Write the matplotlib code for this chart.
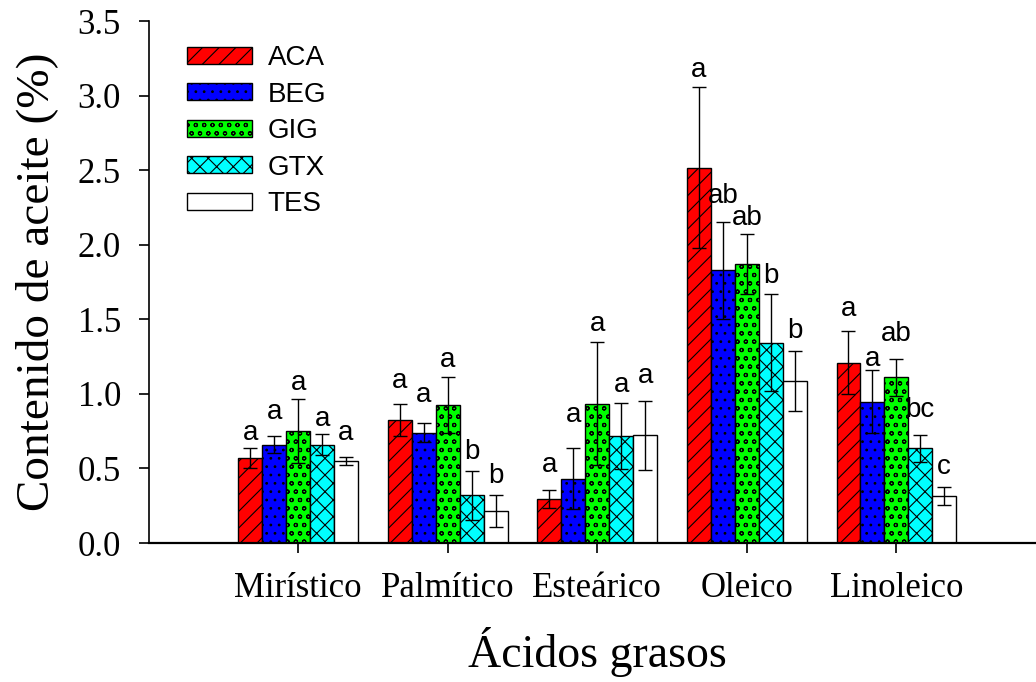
"""
Contenido de aceite por ácido graso para cinco genotipos,
barras agrupadas con error estándar y letras de significancia.
"""
import numpy as np
import matplotlib
matplotlib.use("Agg")
import matplotlib.pyplot as plt

# Datos
acidos = ["Mirístico", "Palmítico", "Esteárico", "Oleico", "Linoleico"]
genotipos = ["ACA", "BEG", "GIG", "GTX", "TES"]

media_aca = [0.57, 0.825, 0.295, 2.515, 1.21]
media_beg = [0.66, 0.74, 0.43, 1.83, 0.948]
media_gig = [0.75, 0.925, 0.935, 1.87, 1.11]
media_gtx = [0.66, 0.32, 0.718, 1.344, 0.635]
media_tes = [0.55, 0.215, 0.723, 1.087, 0.317]

error_aca = [0.065, 0.105, 0.06, 0.54, 0.21]
error_beg = [0.055, 0.065, 0.205, 0.325, 0.21]
error_gig = [0.215, 0.185, 0.41, 0.2, 0.125]
error_gtx = [0.07, 0.165, 0.22, 0.325, 0.09]
error_tes = [0.025, 0.105, 0.232, 0.2, 0.06]

letras_aca = ["a", "a", "a", "a", "a"]
letras_beg = ["a", "a", "a", "ab", "a"]
letras_gig = ["a", "a", "a", "ab", "ab"]
letras_gtx = ["a", "b", "a", "b", "bc"]
letras_tes = ["a", "b", "a", "b", "c"]

medias = [media_aca, media_beg, media_gig, media_gtx, media_tes]
errores = [error_aca, error_beg, error_gig, error_gtx, error_tes]
letras = [letras_aca, letras_beg, letras_gig, letras_gtx, letras_tes]

# Estilo de cada serie
colores = ["#ff0000", "#0000ff", "#00ff00", "#00ffff", "#ffffff"]
tramas = ["//", "..", "oo", "xx", ""]

# separación (px) entre la barra de error y cada letra, como en el original
holgura_px = [
    [8, 16, 18, 10, 15],
    [17, 21, 26, 19, 4],
    [9, 10, 11, 9, 18],
    [8, 12, 11, 11, 18],
    [17, 12, 18, 13, 13],
]
px_por_unidad = 149.0

plt.rcParams["hatch.linewidth"] = 0.8

fig = plt.figure(figsize=(10.36, 6.82), dpi=100)
ax = fig.add_axes([0.1435, 0.2038, 0.866, 0.7654])

x = np.arange(1, len(acidos) + 1)
ancho = 0.16

for i, nombre in enumerate(genotipos):
    pos = x + (i - 2) * ancho
    ax.bar(pos, medias[i], width=ancho, color=colores[i], hatch=tramas[i],
           edgecolor="black", linewidth=1.0, label=nombre, zorder=2)
    ax.errorbar(pos, medias[i], yerr=errores[i], fmt="none", ecolor="black",
                elinewidth=1.0, capsize=4.7, capthick=1.0, zorder=3)
    # letras de significancia encima de la barra de error
    for j, (xp, m, e, t) in enumerate(zip(pos, medias[i], errores[i], letras[i])):
        y_txt = m + e + holgura_px[i][j] / px_por_unidad
        ax.text(xp, y_txt, t, ha="center", va="baseline",
                fontsize=20, family="Liberation Sans")

ax.set_xlim(0, 6)
ax.set_ylim(0, 3.5)
ax.set_yticks(np.arange(0, 3.51, 0.5))
ax.set_yticklabels([f"{v:.1f}" for v in np.arange(0, 3.51, 0.5)])
ax.set_xticks(x)
ax.set_xticklabels(acidos)

for lab in ax.get_xticklabels() + ax.get_yticklabels():
    lab.set_family("Liberation Serif")
    lab.set_fontsize(25)

ax.tick_params(axis="y", direction="out", length=7, width=1.2, pad=13)
ax.tick_params(axis="x", direction="out", length=7, width=1.2, pad=14)

ax.spines["top"].set_visible(False)
ax.spines["right"].set_visible(False)
ax.spines["left"].set_linewidth(1.2)
ax.spines["bottom"].set_linewidth(1.6)

ax.set_ylabel("Contenido de aceite (%)", family="Liberation Serif",
              fontsize=34, labelpad=14)
ax.set_xlabel("Ácidos grasos", family="Liberation Serif",
              fontsize=33, labelpad=16)

leg = ax.legend(loc="upper left", bbox_to_anchor=(187 / 1036, 1 - 45 / 682),
                bbox_transform=fig.transFigure, frameon=False,
                prop={"family": "Liberation Sans", "size": 20},
                handlelength=2.35, handleheight=0.55, handletextpad=0.55,
                labelspacing=0.38, borderpad=0, borderaxespad=0)

fig.savefig("out.png", dpi=100)
